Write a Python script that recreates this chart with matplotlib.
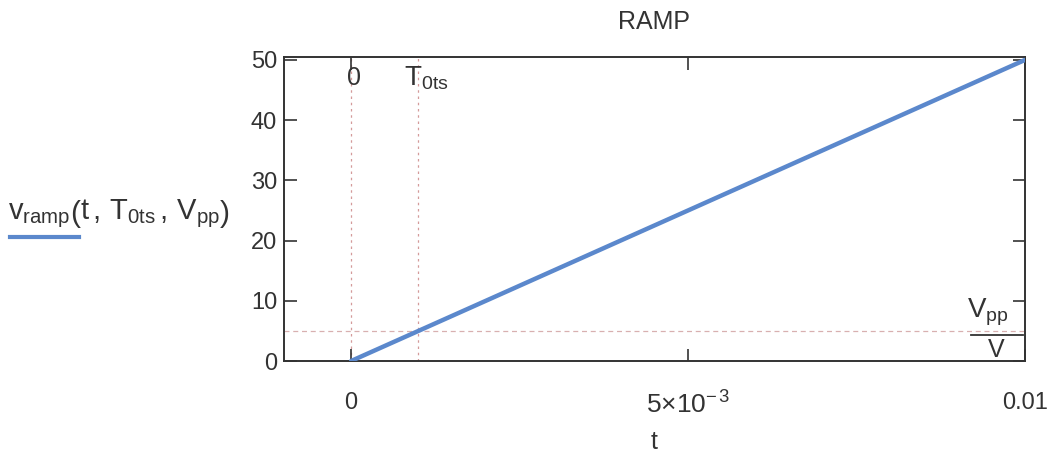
import matplotlib.pyplot as plt
import numpy as np

plt.rcParams['font.family'] = ['Liberation Sans', 'DejaVu Sans']
plt.rcParams['mathtext.fontset'] = 'custom'
plt.rcParams['mathtext.rm'] = 'Liberation Sans'
plt.rcParams['mathtext.it'] = 'Liberation Sans'

# ramp parameters
T0ts = 0.001
Vpp = 5.0
t = np.array([0.0, 0.01])
v_ramp = np.array([0.0, 50.0])

xticks = [0, 0.005, 0.01]
xticklabels = ['0', r'$\mathrm{5{\times}10^{-\,3}}$', '0.01']
yticks = [0, 10, 20, 30, 40, 50]

fig = plt.figure(figsize=(10.57, 4.59), dpi=100)
ax = fig.add_axes([0.2687, 0.2135, 0.701, 0.6625])

ax.plot(t, v_ramp, color='#5b88cc', lw=3.2, solid_capstyle='round', zorder=3)

# marker lines at t=0, t=T0ts and v=Vpp/V
dot = (0, (2, 3))
ax.axvline(0, color='#d49a9a', lw=0.9, ls=dot, zorder=1)
ax.axvline(T0ts, color='#d49a9a', lw=0.9, ls=dot, zorder=1)
ax.axhline(Vpp, color='#d8b0b0', lw=0.9, ls=(0, (4, 3)), zorder=1)

ax.set_xlim(-0.000995, 0.01)
ax.set_ylim(0, 50.5)

ax.set_xticks(xticks)
ax.set_xticklabels(xticklabels)
ax.set_yticks(yticks)
ax.tick_params(axis='both', direction='in', length=9, width=1.2, labelsize=17,
               colors='#333333', top=True, right=True)
ax.tick_params(axis='x', pad=22)
ax.tick_params(axis='y', pad=5)
ax.get_xticklabels()[1].set_fontsize(19)
for s in ax.spines.values():
    s.set_linewidth(1.4)
    s.set_color('#333333')

# labels on the marker lines
ax.text(0.00005, 49.0, '0', fontsize=18, color='#333333', ha='center', va='top')
ax.text(T0ts + 0.00012, 49.2, r'$\mathrm{T_{0ts}}$', fontsize=20, color='#333333',
        ha='center', va='top')
ax.text(0.00945, Vpp + 0.5, r'$\mathrm{V_{pp}}$', fontsize=20, color='#333333',
        ha='center', va='bottom')
ax.plot([0.0092, 0.00997], [Vpp - 0.7, Vpp - 0.7], color='#333333', lw=1.3,
        clip_on=False)
ax.text(0.00958, Vpp - 1.1, 'V', fontsize=18, color='#333333', ha='center', va='top')

ax.set_title('RAMP', fontsize=18, color='#333333', pad=20)
ax.set_xlabel('t', fontsize=18, color='#333333', labelpad=8)

# y-axis label with line sample
fig.text(0.008, 0.535,
         r'$\mathrm{v_{ramp}\left(t\,,\,T_{0ts}\,,\,V_{pp}\right)}$',
         fontsize=21, color='#333333', ha='left', va='center')
fig.add_artist(plt.Line2D([0.009, 0.075], [0.483, 0.483], color='#5b88cc', lw=3))

plt.savefig('out.png', dpi=100)
